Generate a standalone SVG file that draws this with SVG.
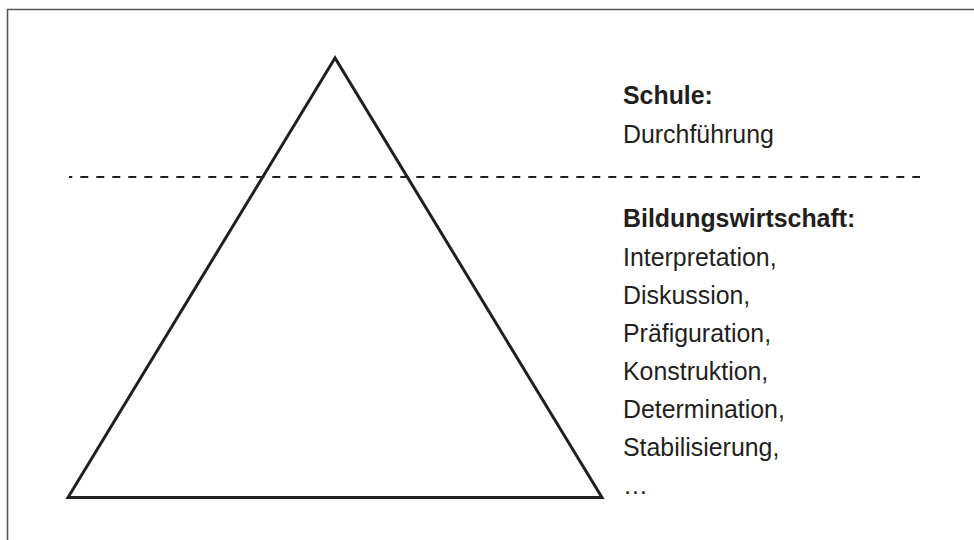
<svg xmlns="http://www.w3.org/2000/svg" width="974" height="540" viewBox="0 0 974 540">
<style>
.t{font-family:"Liberation Sans",Arial,sans-serif;font-size:24.9px;fill:#231f20}
.b{font-weight:bold}
</style>
<rect width="974" height="540" fill="#fff"/>
<path d="M7.5 540 V9.5 H974" fill="none" stroke="#555" stroke-width="1.6"/>
<g id="triangle">
<polygon points="335,58 68,497.5 602,497.5" fill="none" stroke="#231f20" stroke-width="3" stroke-linejoin="miter"/>
</g>
<g id="connectors">
<line x1="69" y1="177" x2="920" y2="177" stroke="#231f20" stroke-width="2" stroke-dasharray="8 8" stroke-dashoffset="4.7"/>
</g>
<g id="schule">
<text class="t b" x="623" y="104">Schule:</text>
<text class="t" x="623" y="143">Durchführung</text>
</g>
<g id="bildungswirtschaft">
<text class="t b" x="623" y="227">Bildungswirtschaft:</text>
<text class="t" x="623" y="265.5">Interpretation,</text>
<text class="t" x="623" y="303.5">Diskussion,</text>
<text class="t" x="623" y="341.5">Präfiguration,</text>
<text class="t" x="623" y="379.5">Konstruktion,</text>
<text class="t" x="623" y="417.5">Determination,</text>
<text class="t" x="623" y="455.5">Stabilisierung,</text>
<text class="t" x="623" y="493.5">…</text>
</g>
</svg>
